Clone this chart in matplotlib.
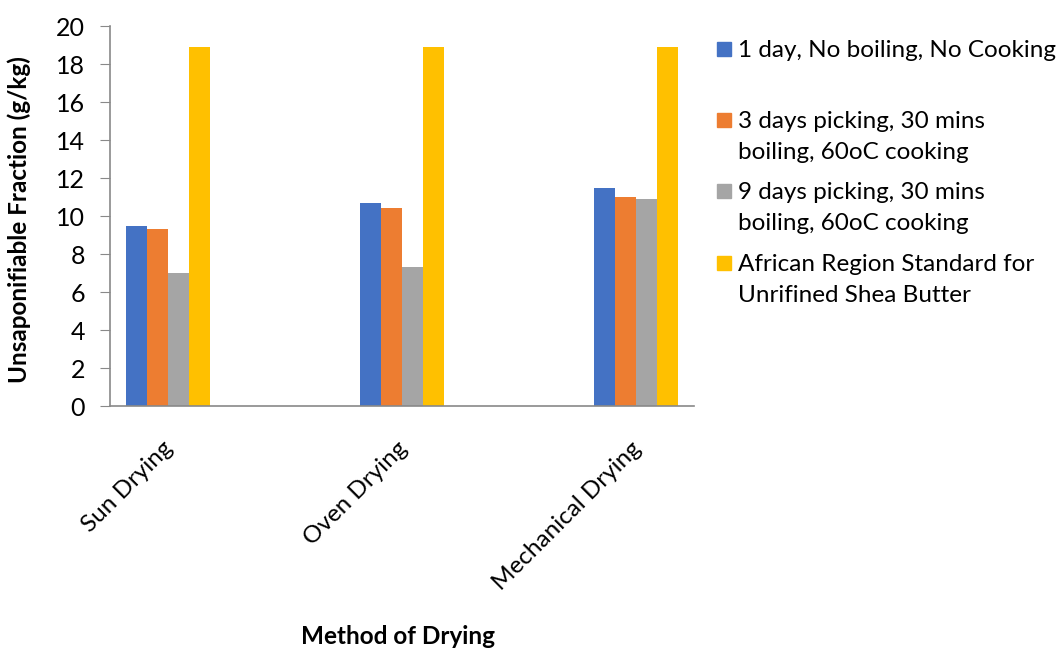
import numpy as np
import matplotlib
matplotlib.use("Agg")
import matplotlib.pyplot as plt
from matplotlib.patches import Rectangle

plt.rcParams['font.family'] = ['Lato', 'DejaVu Sans']

categories = ["Sun Drying", "Oven Drying", "Mechanical Drying"]
series_labels = [
    "1 day, No boiling, No Cooking",
    "3 days picking, 30 mins\nboiling, 60oC cooking",
    "9 days picking, 30 mins\nboiling, 60oC cooking",
    "African Region Standard for\nUnrifined Shea Butter",
]
one_day = [9.47, 10.67, 11.49]
three_days = [9.3, 10.4, 10.98]
nine_days = [7.02, 7.3, 10.91]
african_std = [18.9, 18.9, 18.9]
colors = ["#4472C4", "#ED7D31", "#A5A5A5", "#FFC000"]

fig = plt.figure(figsize=(10.6, 6.49), dpi=100)
ax = fig.add_axes([110 / 1060, 1 - 406 / 649, 584 / 1060, 380 / 649])

x = np.arange(len(categories))
width = 0.09
all_series = [one_day, three_days, nine_days, african_std]
for i, vals in enumerate(all_series):
    ax.bar(x + (i - 1.5) * width, vals, width, color=colors[i])

ax.set_xlim(-0.248, 2.248)
ax.set_ylim(0, 20)
ax.set_yticks(np.arange(0, 21, 2))
ax.tick_params(axis='y', labelsize=18, length=7, color='#898989', pad=11)
ax.tick_params(axis='x', length=0)
ax.set_xticks(x - 0.025)
ax.set_xticklabels(categories, rotation=45, ha='right', rotation_mode='anchor', fontsize=17.5)
for lab in ax.get_xticklabels():
    lab.set_y(-0.07)
ax.spines['top'].set_visible(False)
ax.spines['right'].set_visible(False)
for s in ['left', 'bottom']:
    ax.spines[s].set_color('#898989')
    ax.spines[s].set_linewidth(1.2)

ax.set_ylabel("Unsaponifiable Fraction (g/kg)", fontsize=17.5, fontweight='bold')
ax.yaxis.set_label_coords(-0.136, 0.49)
fig.text(398 / 1060, 1 - 637 / 649, "Method of Drying", fontsize=17.5, fontweight='bold',
         ha='center', va='center')

# legend drawn by hand so the marker sits on the first text line
legend_rows = [49, 120, 191, 263]
for lab, col, row in zip(series_labels, colors, legend_rows):
    fig.patches.append(Rectangle((717 / 1060, 1 - (row + 7) / 649), 14 / 1060, 14 / 649,
                                 transform=fig.transFigure, color=col))
    fig.text(738 / 1060, 1 - (row - 9) / 649, lab, fontsize=17.5, ha='left', va='top',
             linespacing=1.6)

fig.savefig("out.png", dpi=100)
